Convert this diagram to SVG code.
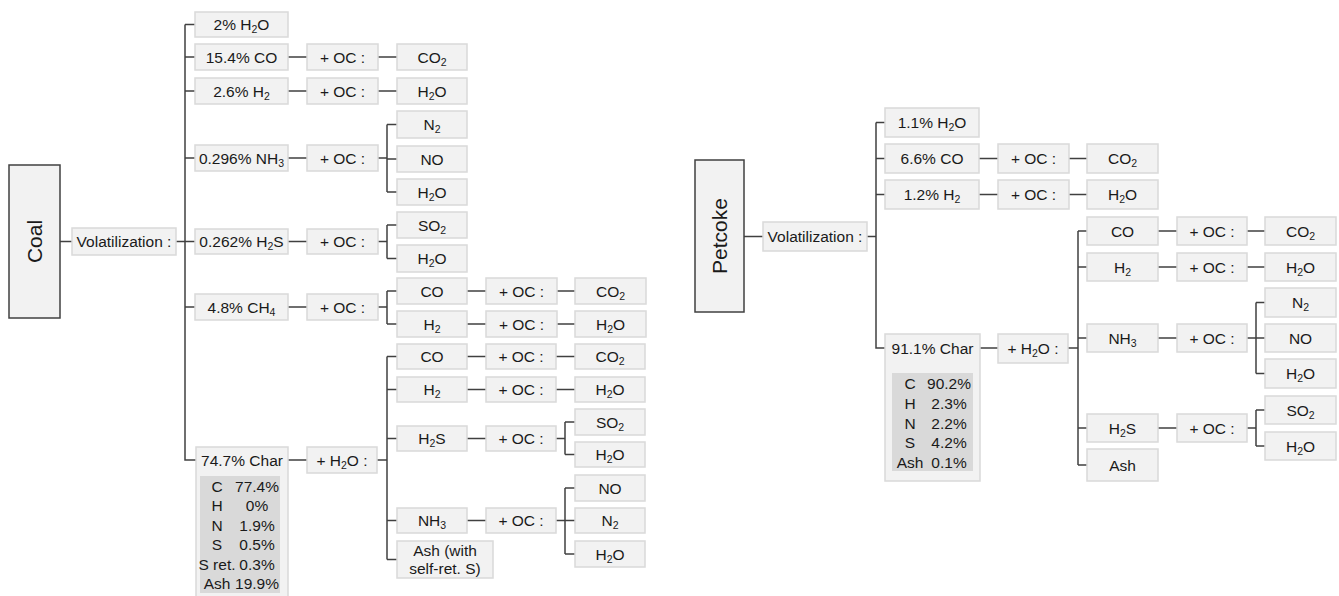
<svg xmlns="http://www.w3.org/2000/svg" width="1339" height="596" viewBox="0 0 1339 596">
<style>
.b{fill:#f2f2f2;stroke:#d9d9d9;stroke-width:1.5}
.m{fill:#f2f2f2;stroke:#404040;stroke-width:1.5}
.tb{fill:#d9d9d9;stroke:none}
text{font-family:"Liberation Sans",Arial,sans-serif;font-size:15.5px;fill:#1a1a1a;text-anchor:middle}
.big{font-size:21px}
.s{font-size:10.5px}
.c{fill:none;stroke:#404040;stroke-width:1.5}
</style>
<rect width="1339" height="596" fill="#ffffff"/>
<g id="connectors" class="c">
<path d="M60 241.5H72M176 241.5H185M185 24.5V460H196M185 24.5H195M185 57H195M185 91H195M185 158H195M185 241.5H195M185 307H195"/>
<path d="M288 57H307M378 57H397M288 91H307M378 91H397"/>
<path d="M288 158H307M378 158H387M387 124.5V192M387 124.5H397M387 159H397M387 192H397"/>
<path d="M288 241.5H307M378 241.5H387M387 225V258.5M387 225H397M387 258.5H397"/>
<path d="M288 307H307M378 307H387M387 291V324M387 291H397M387 324H397M467 291H486M557 291H575M467 324H486M557 324H575"/>
<path d="M288 460H307M377 460H387M387 356.5V559.5M387 356.5H397M387 389.5H397M387 438.5H397M387 520.5H397M387 559.5H397"/>
<path d="M467 356.5H486M556 356.5H575M467 389.5H486M556 389.5H575"/>
<path d="M467 438.5H486M556 438.5H565M565 422V454.5M565 422H575M565 454.5H575"/>
<path d="M467 520.5H486M556 520.5H565M565 488V554M565 488H575M565 520.5H575M565 554H575"/>
<path d="M744 236.5H763M867 236.5H876M876 122.5V348H885M876 122.5H885M876 158.5H885M876 194.5H885"/>
<path d="M979 158.5H998M1069 158.5H1087M979 194.5H998M1069 194.5H1087"/>
<path d="M980 348H998M1068 348H1078M1078 231V465M1078 231H1087M1078 267H1087M1078 338H1087M1078 428H1087M1078 465H1087"/>
<path d="M1158 231H1177M1247 231H1265M1158 267H1177M1247 267H1265"/>
<path d="M1158 338H1177M1247 338H1256M1256 302.5V373.5M1256 302.5H1265M1256 338H1265M1256 373.5H1265"/>
<path d="M1158 428H1177M1247 428H1256M1256 410V446M1256 410H1265M1256 446H1265"/>
</g>

<g id="coal"><rect class="m" x="9" y="165" width="51" height="153"/><text class="big" transform="translate(34.5,241.5) rotate(-90)" x="0" y="7.5">Coal</text></g>
<g id="coal-vol"><rect class="b" x="72" y="228" width="104" height="27"/><text x="124" y="247">Volatilization :</text></g>
<g id="c-h2o"><rect class="b" x="195" y="12" width="93" height="25"/><text x="241.5" y="30">2% H<tspan class="s" dy="3">2</tspan><tspan dy="-3">O</tspan></text></g>
<g id="c-co"><rect class="b" x="195" y="44" width="93" height="26"/><text x="241.5" y="62.5">15.4% CO</text></g>
<g id="c-co-oc"><rect class="b" x="307" y="44" width="71" height="26"/><text x="342.5" y="62.5">+ OC :</text></g>
<g id="c-co-co2"><rect class="b" x="397" y="44" width="70" height="26"/><text x="432" y="62.5">CO<tspan class="s" dy="3">2</tspan></text></g>
<g id="c-h2"><rect class="b" x="195" y="78" width="93" height="26"/><text x="241.5" y="96.5">2.6% H<tspan class="s" dy="3">2</tspan></text></g>
<g id="c-h2-oc"><rect class="b" x="307" y="78" width="71" height="26"/><text x="342.5" y="96.5">+ OC :</text></g>
<g id="c-h2-h2o"><rect class="b" x="397" y="78" width="70" height="26"/><text x="432" y="96.5">H<tspan class="s" dy="3">2</tspan><tspan dy="-3">O</tspan></text></g>
<g id="c-nh3"><rect class="b" x="195" y="145" width="93" height="26"/><text x="241.5" y="163.5">0.296% NH<tspan class="s" dy="3">3</tspan></text></g>
<g id="c-nh3-oc"><rect class="b" x="307" y="145" width="71" height="26"/><text x="342.5" y="163.5">+ OC :</text></g>
<g id="c-nh3-n2"><rect class="b" x="397" y="111" width="70" height="27"/><text x="432" y="130">N<tspan class="s" dy="3">2</tspan></text></g>
<g id="c-nh3-no"><rect class="b" x="397" y="146" width="70" height="26"/><text x="432" y="164.5">NO</text></g>
<g id="c-nh3-h2o"><rect class="b" x="397" y="179" width="70" height="26"/><text x="432" y="197.5">H<tspan class="s" dy="3">2</tspan><tspan dy="-3">O</tspan></text></g>
<g id="c-h2s"><rect class="b" x="195" y="229" width="93" height="25"/><text x="241.5" y="247">0.262% H<tspan class="s" dy="3">2</tspan><tspan dy="-3">S</tspan></text></g>
<g id="c-h2s-oc"><rect class="b" x="307" y="229" width="71" height="25"/><text x="342.5" y="247">+ OC :</text></g>
<g id="c-h2s-so2"><rect class="b" x="397" y="212" width="70" height="26"/><text x="432" y="230.5">SO<tspan class="s" dy="3">2</tspan></text></g>
<g id="c-h2s-h2o"><rect class="b" x="397" y="245" width="70" height="27"/><text x="432" y="264">H<tspan class="s" dy="3">2</tspan><tspan dy="-3">O</tspan></text></g>
<g id="c-ch4"><rect class="b" x="195" y="294" width="93" height="26"/><text x="241.5" y="312.5">4.8% CH<tspan class="s" dy="3">4</tspan></text></g>
<g id="c-ch4-oc"><rect class="b" x="307" y="294" width="71" height="26"/><text x="342.5" y="312.5">+ OC :</text></g>
<g id="c-ch4-co"><rect class="b" x="397" y="278" width="70" height="26"/><text x="432" y="296.5">CO</text></g>
<g id="c-ch4-co-oc"><rect class="b" x="486" y="278" width="71" height="26"/><text x="521.5" y="296.5">+ OC :</text></g>
<g id="c-ch4-co-co2"><rect class="b" x="575" y="278" width="71" height="26"/><text x="610.5" y="296.5">CO<tspan class="s" dy="3">2</tspan></text></g>
<g id="c-ch4-h2"><rect class="b" x="397" y="311" width="70" height="26"/><text x="432" y="329.5">H<tspan class="s" dy="3">2</tspan></text></g>
<g id="c-ch4-h2-oc"><rect class="b" x="486" y="311" width="71" height="26"/><text x="521.5" y="329.5">+ OC :</text></g>
<g id="c-ch4-h2-h2o"><rect class="b" x="575" y="311" width="71" height="26"/><text x="610.5" y="329.5">H<tspan class="s" dy="3">2</tspan><tspan dy="-3">O</tspan></text></g>
<g id="c-char"><rect class="b" x="196" y="447" width="92" height="152"/><text x="242" y="465.5">74.7% Char</text>
<rect class="tb" x="200" y="476" width="80" height="117"/>
<text x="217" y="491.5">C</text><text x="257" y="491.5">77.4%</text>
<text x="217" y="511">H</text><text x="257" y="511">0%</text>
<text x="217" y="530.5">N</text><text x="257" y="530.5">1.9%</text>
<text x="217" y="550">S</text><text x="257" y="550">0.5%</text>
<text x="217" y="569.5">S ret.</text><text x="257" y="569.5">0.3%</text>
<text x="217" y="589">Ash</text><text x="257" y="589">19.9%</text></g>
<g id="c-char-h2o"><rect class="b" x="307" y="447" width="70" height="26"/><text x="342" y="465.5">+ H<tspan class="s" dy="3">2</tspan><tspan dy="-3">O :</tspan></text></g>
<g id="c-char-co"><rect class="b" x="397" y="344" width="70" height="25"/><text x="432" y="362">CO</text></g>
<g id="c-char-co-oc"><rect class="b" x="486" y="344" width="70" height="25"/><text x="521" y="362">+ OC :</text></g>
<g id="c-char-co-co2"><rect class="b" x="575" y="344" width="70" height="25"/><text x="610" y="362">CO<tspan class="s" dy="3">2</tspan></text></g>
<g id="c-char-h2"><rect class="b" x="397" y="377" width="70" height="25"/><text x="432" y="395">H<tspan class="s" dy="3">2</tspan></text></g>
<g id="c-char-h2-oc"><rect class="b" x="486" y="377" width="70" height="25"/><text x="521" y="395">+ OC :</text></g>
<g id="c-char-h2-h2o"><rect class="b" x="575" y="377" width="70" height="25"/><text x="610" y="395">H<tspan class="s" dy="3">2</tspan><tspan dy="-3">O</tspan></text></g>
<g id="c-char-h2s"><rect class="b" x="397" y="426" width="70" height="25"/><text x="432" y="444">H<tspan class="s" dy="3">2</tspan><tspan dy="-3">S</tspan></text></g>
<g id="c-char-h2s-oc"><rect class="b" x="486" y="426" width="70" height="25"/><text x="521" y="444">+ OC :</text></g>
<g id="c-char-h2s-so2"><rect class="b" x="575" y="409" width="70" height="26"/><text x="610" y="427.5">SO<tspan class="s" dy="3">2</tspan></text></g>
<g id="c-char-h2s-h2o"><rect class="b" x="575" y="442" width="70" height="25"/><text x="610" y="460">H<tspan class="s" dy="3">2</tspan><tspan dy="-3">O</tspan></text></g>
<g id="c-char-nh3"><rect class="b" x="397" y="508" width="70" height="25"/><text x="432" y="526">NH<tspan class="s" dy="3">3</tspan></text></g>
<g id="c-char-nh3-oc"><rect class="b" x="486" y="508" width="70" height="25"/><text x="521" y="526">+ OC :</text></g>
<g id="c-char-nh3-no"><rect class="b" x="575" y="475" width="70" height="26"/><text x="610" y="493.5">NO</text></g>
<g id="c-char-nh3-n2"><rect class="b" x="575" y="508" width="70" height="25"/><text x="610" y="526">N<tspan class="s" dy="3">2</tspan></text></g>
<g id="c-char-nh3-h2o"><rect class="b" x="575" y="541" width="70" height="26"/><text x="610" y="559.5">H<tspan class="s" dy="3">2</tspan><tspan dy="-3">O</tspan></text></g>
<g id="c-char-ash"><rect class="b" x="397" y="541" width="96" height="37"/><text x="445" y="556">Ash (with</text><text x="445" y="573.5">self-ret. S)</text></g>

<g id="petcoke"><rect class="m" x="695" y="160" width="49" height="152"/><text class="big" transform="translate(719.5,236) rotate(-90)" x="0" y="7.5">Petcoke</text></g>
<g id="p-vol"><rect class="b" x="763" y="222" width="104" height="29"/><text x="815" y="242">Volatilization :</text></g>
<g id="p-h2o"><rect class="b" x="885" y="108" width="94" height="29"/><text x="932" y="128">1.1% H<tspan class="s" dy="3">2</tspan><tspan dy="-3">O</tspan></text></g>
<g id="p-co"><rect class="b" x="885" y="144" width="94" height="29"/><text x="932" y="164">6.6% CO</text></g>
<g id="p-co-oc"><rect class="b" x="998" y="144" width="71" height="29"/><text x="1033.5" y="164">+ OC :</text></g>
<g id="p-co-co2"><rect class="b" x="1087" y="144" width="71" height="29"/><text x="1122.5" y="164">CO<tspan class="s" dy="3">2</tspan></text></g>
<g id="p-h2"><rect class="b" x="885" y="180" width="94" height="29"/><text x="932" y="200">1.2% H<tspan class="s" dy="3">2</tspan></text></g>
<g id="p-h2-oc"><rect class="b" x="998" y="180" width="71" height="29"/><text x="1033.5" y="200">+ OC :</text></g>
<g id="p-h2-h2o"><rect class="b" x="1087" y="180" width="71" height="29"/><text x="1122.5" y="200">H<tspan class="s" dy="3">2</tspan><tspan dy="-3">O</tspan></text></g>
<g id="p-char"><rect class="b" x="885" y="334" width="95" height="147"/><text x="932.5" y="353.5">91.1% Char</text>
<rect class="tb" x="892" y="373" width="81" height="98"/>
<text x="910" y="388.5">C</text><text x="949" y="388.5">90.2%</text>
<text x="910" y="408.5">H</text><text x="949" y="408.5">2.3%</text>
<text x="910" y="428.5">N</text><text x="949" y="428.5">2.2%</text>
<text x="910" y="447.5">S</text><text x="949" y="447.5">4.2%</text>
<text x="910" y="467.5">Ash</text><text x="949" y="467.5">0.1%</text></g>
<g id="p-char-h2o"><rect class="b" x="998" y="334" width="70" height="29"/><text x="1033" y="354">+ H<tspan class="s" dy="3">2</tspan><tspan dy="-3">O :</tspan></text></g>
<g id="p-char-co"><rect class="b" x="1087" y="217" width="71" height="28"/><text x="1122.5" y="236.5">CO</text></g>
<g id="p-char-co-oc"><rect class="b" x="1177" y="217" width="70" height="28"/><text x="1212" y="236.5">+ OC :</text></g>
<g id="p-char-co-co2"><rect class="b" x="1265" y="217" width="71" height="28"/><text x="1300.5" y="236.5">CO<tspan class="s" dy="3">2</tspan></text></g>
<g id="p-char-h2"><rect class="b" x="1087" y="253" width="71" height="28"/><text x="1122.5" y="272.5">H<tspan class="s" dy="3">2</tspan></text></g>
<g id="p-char-h2-oc"><rect class="b" x="1177" y="253" width="70" height="28"/><text x="1212" y="272.5">+ OC :</text></g>
<g id="p-char-h2-h2o"><rect class="b" x="1265" y="253" width="71" height="28"/><text x="1300.5" y="272.5">H<tspan class="s" dy="3">2</tspan><tspan dy="-3">O</tspan></text></g>
<g id="p-char-nh3"><rect class="b" x="1087" y="324" width="71" height="28"/><text x="1122.5" y="343.5">NH<tspan class="s" dy="3">3</tspan></text></g>
<g id="p-char-nh3-oc"><rect class="b" x="1177" y="324" width="70" height="28"/><text x="1212" y="343.5">+ OC :</text></g>
<g id="p-char-nh3-n2"><rect class="b" x="1265" y="288" width="71" height="29"/><text x="1300.5" y="308">N<tspan class="s" dy="3">2</tspan></text></g>
<g id="p-char-nh3-no"><rect class="b" x="1265" y="324" width="71" height="28"/><text x="1300.5" y="343.5">NO</text></g>
<g id="p-char-nh3-h2o"><rect class="b" x="1265" y="359" width="71" height="29"/><text x="1300.5" y="379">H<tspan class="s" dy="3">2</tspan><tspan dy="-3">O</tspan></text></g>
<g id="p-char-h2s"><rect class="b" x="1087" y="414" width="71" height="28"/><text x="1122.5" y="433.5">H<tspan class="s" dy="3">2</tspan><tspan dy="-3">S</tspan></text></g>
<g id="p-char-h2s-oc"><rect class="b" x="1177" y="414" width="70" height="28"/><text x="1212" y="433.5">+ OC :</text></g>
<g id="p-char-h2s-so2"><rect class="b" x="1265" y="396" width="71" height="28"/><text x="1300.5" y="415.5">SO<tspan class="s" dy="3">2</tspan></text></g>
<g id="p-char-h2s-h2o"><rect class="b" x="1265" y="432" width="71" height="28"/><text x="1300.5" y="451.5">H<tspan class="s" dy="3">2</tspan><tspan dy="-3">O</tspan></text></g>
<g id="p-char-ash"><rect class="b" x="1087" y="449" width="71" height="32"/><text x="1122.5" y="470.5">Ash</text></g>
</svg>
